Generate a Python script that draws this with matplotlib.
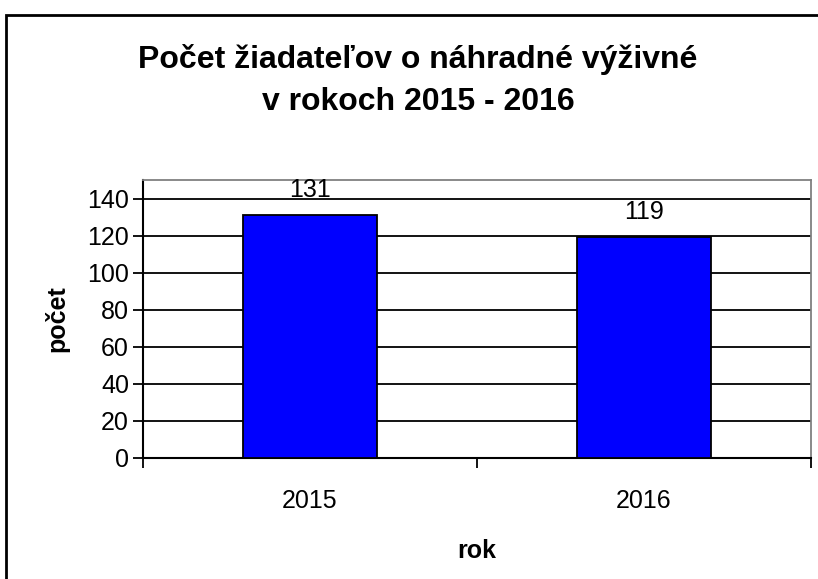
import matplotlib.pyplot as plt
from matplotlib.patches import Rectangle

plt.rcParams['font.family'] = ['Liberation Sans', 'DejaVu Sans']

# data
roky = ['2015', '2016']
pocet = [131, 119]
y_ticks = [0, 20, 40, 60, 80, 100, 120, 140]
nadpis = ['Počet žiadateľov o náhradné výživné', 'v rokoch 2015 - 2016']

fig = plt.figure(figsize=(8.18, 5.79), dpi=100)
ax = fig.add_axes([0.1748, 0.2090, 0.8166, 0.4801])

# outer chart frame
fig.patches.append(Rectangle((0.0075, -0.5), 2.0, 0.5 + 0.974, transform=fig.transFigure,
                             fill=False, edgecolor='black', linewidth=2))

x = list(range(len(roky)))
ax.bar(x, pocet, width=0.4, color='#0000FF', edgecolor='black', linewidth=1.3, zorder=3)
for xi, v in zip(x, pocet):
    ax.text(xi, v + 7, str(v), ha='center', va='bottom', fontsize=18, zorder=4)

ax.set_xlim(-0.5, len(roky) - 0.5)
ax.set_ylim(0, 150)
ax.set_yticks(y_ticks)
ax.yaxis.grid(True, color='black', linewidth=1.3)
ax.set_axisbelow(True)

# ticks sit between categories, labels centred under bars
ax.set_xticks([-0.5, 0.5, 1.5])
ax.set_xticklabels([])
ax.set_xticks(x, minor=True)
ax.set_xticklabels(roky, minor=True)
ax.tick_params(axis='x', which='major', direction='out', length=7, width=1.3)
ax.tick_params(axis='x', which='minor', length=0, pad=22, labelsize=18)
ax.tick_params(axis='y', direction='out', length=7, width=1.3, labelsize=18, pad=3)

for s in ['top', 'right']:
    ax.spines[s].set_color('#808080')
    ax.spines[s].set_linewidth(1.3)
for s in ['left', 'bottom']:
    ax.spines[s].set_color('black')
    ax.spines[s].set_linewidth(1.5)

ax.set_xlabel('rok', fontsize=18, fontweight='bold', labelpad=19)
ax.set_ylabel('počet', fontsize=18, fontweight='bold', labelpad=13)

fig.text(0.511, 1 - 68 / 579, nadpis[0], ha='center', va='baseline',
         fontsize=23, fontweight='bold')
fig.text(0.511, 1 - 110 / 579, nadpis[1], ha='center', va='baseline',
         fontsize=23, fontweight='bold')

fig.savefig('out.png', dpi=100)
